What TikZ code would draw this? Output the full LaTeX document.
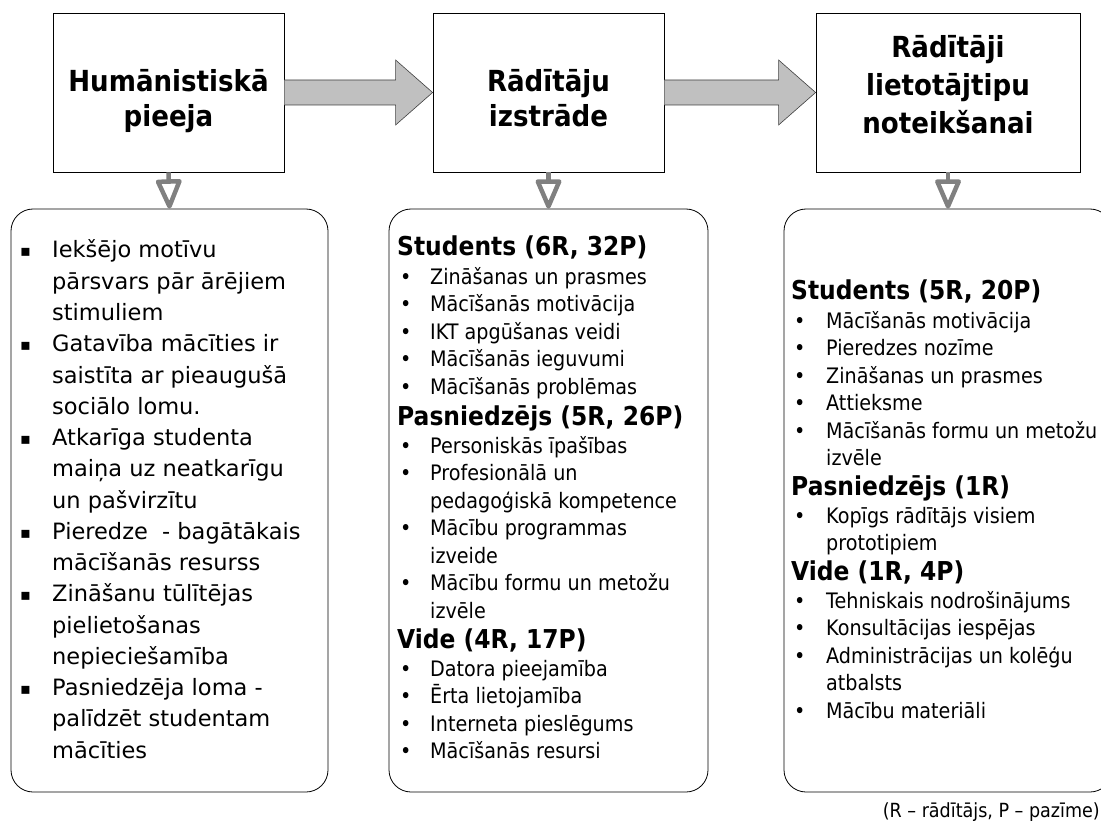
\documentclass[tikz,border=0pt]{standalone}
\usepackage{fontspec}
\setmainfont{DejaVu Sans}
\newfontfamily\tah{DejaVu Sans}[FakeStretch=0.9]
\usetikzlibrary{arrows.meta,calc}
\definecolor{arrowgray}{HTML}{C0C0C0}
\definecolor{arrowline}{HTML}{404040}
\definecolor{downgray}{HTML}{808080}
\newcommand\bulx[1]{\makebox[#1][l]{•}}
\newcommand\sqbul{\makebox[32pt][l]{\raisebox{1.2pt}{\fontsize{16}{16}\selectfont ▪}}}
\newcommand\contx[1]{\hspace*{#1}}
\newcommand\hdr[1]{\hspace*{-3pt}\fontsize{26}{30}\selectfont\bfseries #1}
\begin{document}
\begin{tikzpicture}[x=1pt,y=-1pt,
  topbox/.style={draw=black, line width=0.8pt, minimum width=231pt, minimum height=159pt, inner sep=0pt},
  toptext/.style={anchor=base, inner sep=0pt, font=\tah\fontsize{29}{34}\selectfont\bfseries},
  listbox/.style={draw=black, line width=0.8pt, rounded corners=22pt, minimum height=583pt, inner sep=0pt},
  bigarrow/.style={fill=arrowgray, draw=arrowline, line width=0.6pt, line join=miter},
  downarrow/.style={draw=downgray, line width=4.5pt, -{Triangle[open, length=33pt, width=27pt, round]}},
  ltext/.style={anchor=base west, inner sep=0pt, font=\fontsize{22.5}{27}\selectfont},
  mtext/.style={anchor=base west, inner sep=0pt, font=\tah\fontsize{21.3}{25}\selectfont},
  note/.style={anchor=base east, inner sep=0pt, font=\tah\fontsize{19.5}{22}\selectfont}
]
\useasboundingbox (0,0) rectangle (1101,821);
\begin{scope}
\clip (0,0) rectangle (1101,821);

% top boxes
\node[topbox] (b1) at (168.5,92.5) {};
\node[topbox] (b2) at (548.5,92.5) {};
\node[topbox, minimum width=264pt] (b3) at (948,92.5) {};
\node[toptext] (t1a) at (168.5,92) {Humānistiskā};
\node[toptext] (t1b) at (168.5,127) {pieeja};
\node[toptext] (t2a) at (548.5,92) {Rādītāju};
\node[toptext] (t2b) at (548.5,127) {izstrāde};
\node[toptext] (t3a) at (948,58) {Rādītāji};
\node[toptext] (t3b) at (948,96) {lietotājtipu};
\node[toptext] (t3c) at (948,134) {noteikšanai};

% bottom boxes
\node[listbox, minimum width=317pt] (c1) at (169.5,500.5) {};
\node[listbox, minimum width=319pt] (c2) at (548.5,500.5) {};
\node[listbox, minimum width=328pt] (c3) at (948,500.5) {};

% big arrows
\draw[bigarrow] ($(b1.east)+(0,-12.5)$) -- ($(b2.west)+(-37,-12.5)$) -- ($(b2.west)+(-37,-32.5)$)
  -- (b2.west) -- ($(b2.west)+(-37,32.5)$) -- ($(b2.west)+(-37,12.5)$) -- ($(b1.east)+(0,12.5)$);
\draw[bigarrow] ($(b2.east)+(0,-12.5)$) -- ($(b3.west)+(-37,-12.5)$) -- ($(b3.west)+(-37,-32.5)$)
  -- (b3.west) -- ($(b3.west)+(-37,32.5)$) -- ($(b3.west)+(-37,12.5)$) -- ($(b2.east)+(0,12.5)$);

% down arrows
\draw[downarrow] (b1.south) -- (c1.north);
\draw[downarrow] (b2.south) -- (c2.north);
\draw[downarrow] (b3.south) -- (c3.north);

% left list
\foreach \t [count=\k from 0] in {
  {\sqbul Iekšējo motīvu},
  {\contx{32pt}pārsvars pār ārējiem},
  {\contx{32pt}stimuliem},
  {\sqbul Gatavība mācīties ir},
  {\contx{32pt}saistīta ar pieaugušā},
  {\contx{32pt}sociālo lomu.},
  {\sqbul Atkarīga studenta},
  {\contx{32pt}maiņa uz neatkarīgu},
  {\contx{32pt}un pašvirzītu},
  {\sqbul Pieredze~ - bagātākais},
  {\contx{32pt}mācīšanās resurss},
  {\sqbul Zināšanu tūlītējas},
  {\contx{32pt}pielietošanas},
  {\contx{32pt}nepieciešamība},
  {\sqbul Pasniedzēja loma -},
  {\contx{32pt}palīdzēt studentam},
  {\contx{32pt}mācīties}}
  \node[ltext] (L\k) at (20,258+31.25*\k) {\t};

% middle list
\foreach \y/\t [count=\k] in {
  256/{\hdr{Students (6R, 32P)}},
  284/{\bulx{30pt}Zināšanas un prasmes},
  311.5/{\bulx{30pt}Mācīšanās motivācija},
  339/{\bulx{30pt}IKT apgūšanas veidi},
  366.5/{\bulx{30pt}Mācīšanās ieguvumi},
  394/{\bulx{30pt}Mācīšanās problēmas},
  425/{\hdr{Pasniedzējs (5R, 26P)}},
  453/{\bulx{30pt}Personiskās īpašības},
  480.5/{\bulx{30pt}Profesionālā un},
  508/{\contx{30pt}pedagoģiskā kompetence},
  535.5/{\bulx{30pt}Mācību programmas},
  563/{\contx{30pt}izveide},
  590.5/{\bulx{30pt}Mācību formu un metožu},
  618/{\contx{30pt}izvēle},
  648/{\hdr{Vide (4R, 17P)}},
  676/{\bulx{30pt}Datora pieejamība},
  703.5/{\bulx{30pt}Ērta lietojamība},
  731/{\bulx{30pt}Interneta pieslēgums},
  758.5/{\bulx{30pt}Mācīšanās resursi}}
  \node[mtext] (M\k) at (400,\y) {\t};

% right list
\foreach \y/\t [count=\k] in {
  300/{\hdr{Students (5R, 20P)}},
  328/{\bulx{32pt}Mācīšanās motivācija},
  355.5/{\bulx{32pt}Pieredzes nozīme},
  383/{\bulx{32pt}Zināšanas un prasmes},
  410.5/{\bulx{32pt}Attieksme},
  438/{\bulx{32pt}Mācīšanās formu un metožu},
  465.5/{\contx{32pt}izvēle},
  495/{\hdr{Pasniedzējs (1R)}},
  523/{\bulx{32pt}Kopīgs rādītājs visiem},
  550.5/{\contx{32pt}prototipiem},
  580/{\hdr{Vide (1R, 4P)}},
  608/{\bulx{32pt}Tehniskais nodrošinājums},
  635.5/{\bulx{32pt}Konsultācijas iespējas},
  663/{\bulx{32pt}Administrācijas un kolēģu},
  690.5/{\contx{32pt}atbalsts},
  718/{\bulx{32pt}Mācību materiāli}}
  \node[mtext] (R\k) at (794,\y) {\t};

\node[note] (fn) at (1100,817) {(R – rādītājs, P – pazīme)};
\end{scope}
\end{tikzpicture}
\end{document}
